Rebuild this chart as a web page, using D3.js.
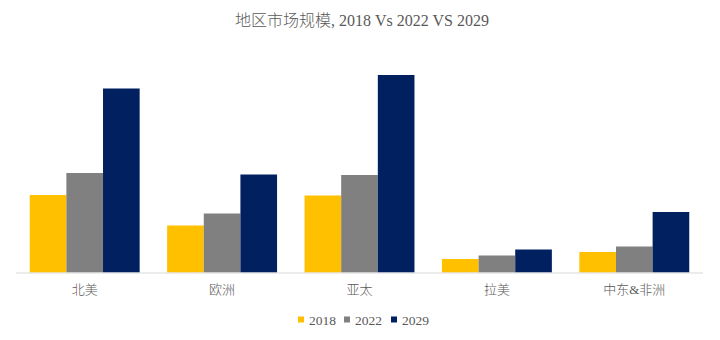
<!DOCTYPE html>
<html>
<head>
<meta charset="utf-8">
<script src="https://cdn.jsdelivr.net/npm/d3@7/dist/d3.min.js"></script>
<style>
  html, body { margin: 0; padding: 0; background: #fff; }
  svg { display: block; }
  text { font-family: "Liberation Serif", "Noto Sans CJK SC", serif; fill: #595959; }
</style>
</head>
<body>
<svg id="chart" width="720" height="340"></svg>
<script>
// Regional market size by year
const categories = ["北美", "欧洲", "亚太", "拉美", "中东&非洲"];
const seriesNames = ["2018", "2022", "2029"];
const values2018 = [77.5, 47, 77, 13.5, 20.5];
const values2022 = [99.5, 59, 97.5, 17, 26];
const values2029 = [184, 98, 197.5, 23, 60.5];
const seriesValues = [values2018, values2022, values2029];
const colors = ["#FFC000", "#808080", "#002060"];

const svg = d3.select("#chart");
const W = 720, H = 340;
const plot = { left: 16, right: 703, top: 72.5, bottom: 272.5 };

const x = d3.scaleBand().domain(categories).range([plot.left, plot.right])
  .paddingInner(0.2).paddingOuter(0.1);
const xs = d3.scaleBand().domain(seriesNames).range([0, x.bandwidth()]);
const y = d3.scaleLinear().domain([0, 200]).range([plot.bottom, plot.top]);

// title
svg.append("text")
  .attr("x", W / 2 + 2).attr("y", 26)
  .attr("text-anchor", "middle")
  .style("font-size", "16px")
  .style("font-weight", "300")
  .text("地区市场规模, 2018 Vs 2022 VS 2029");

// bars
const groups = svg.append("g").selectAll("g")
  .data(categories)
  .join("g")
  .attr("transform", d => `translate(${x(d)},0)`);

groups.selectAll("rect")
  .data((c, i) => seriesNames.map((s, k) => ({ s, v: seriesValues[k][i], k })))
  .join("rect")
  .attr("x", d => xs(d.s))
  .attr("width", xs.bandwidth())
  .attr("y", d => y(d.v))
  .attr("height", d => y(0) - y(d.v))
  .attr("fill", d => colors[d.k]);

// category axis
const axis = svg.append("g")
  .attr("transform", `translate(0,${plot.bottom})`)
  .call(d3.axisBottom(x).tickSize(0).tickPadding(12));
axis.select(".domain").attr("stroke", "#d9d9d9").attr("stroke-width", 1)
  .attr("d", `M${plot.left},0.5H${plot.right}`);
axis.selectAll("text")
  .style("font-size", "13px")
  .style("font-weight", "300")
  .style("font-family", "'Liberation Serif', 'Noto Sans CJK SC', serif")
  .attr("fill", "#7f7f7f");

// legend
const legendItems = seriesNames.map((s, k) => ({ s, k }));
const legend = svg.append("g").attr("transform", "translate(0,320)");
const itemW = [46, 47, 48];
let lx = 298;
legendItems.forEach((d, i) => {
  const g = legend.append("g").attr("transform", `translate(${lx},0)`);
  g.append("rect").attr("x", 0).attr("y", -3.5).attr("width", 6).attr("height", 6)
    .attr("fill", colors[d.k]);
  g.append("text").attr("x", 11).attr("y", 4.5)
    .style("font-size", "13.5px")
    .text(d.s);
  lx += itemW[i];
});
</script>
</body>
</html>
